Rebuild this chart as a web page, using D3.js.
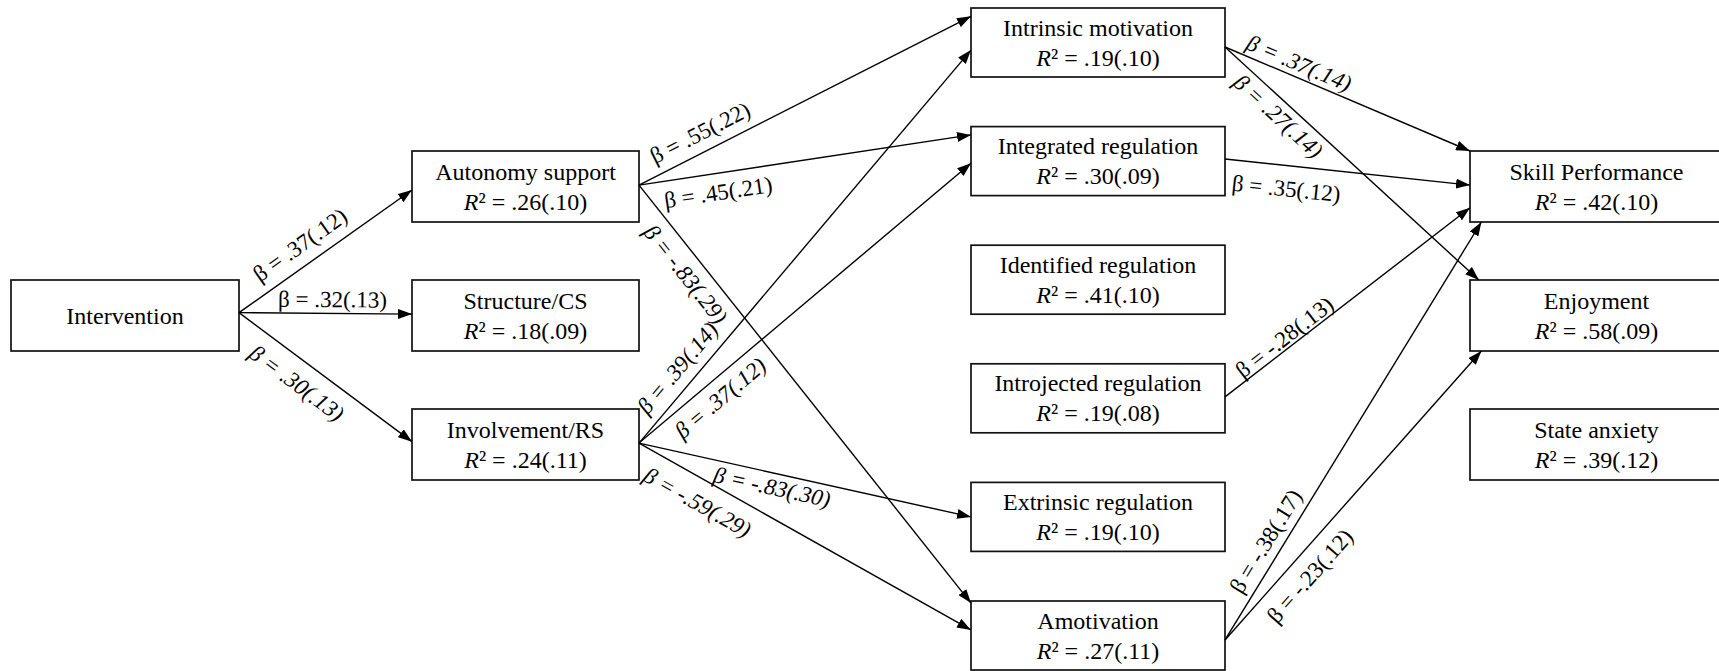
<!DOCTYPE html>
<html>
<head>
<meta charset="utf-8">
<script src="https://cdn.jsdelivr.net/npm/d3@7"></script>
<style>
  body { margin: 0; background: #fff; }
  svg { display: block; }
  svg text { font-family: "Liberation Serif", Tinos, "Times New Roman", serif; }
</style>
</head>
<body>
<svg id="chart" width="1719" height="671"></svg>
<script>
// Boxes of the path model
var nodeNames = ["Intervention", "Autonomy support", "Structure/CS", "Involvement/RS",
  "Intrinsic motivation", "Integrated regulation", "Identified regulation",
  "Introjected regulation", "Extrinsic regulation", "Amotivation",
  "Skill Performance", "Enjoyment", "State anxiety"];
var nodeR2   = [null, .26, .18, .24, .19, .30, .41, .19, .19, .27, .42, .58, .39];
var nodeR2SE = [null, .10, .09, .11, .10, .09, .10, .08, .10, .11, .10, .09, .12];
var nodeCol  = [0, 1, 1, 1, 2, 2, 2, 2, 2, 2, 3, 3, 3];
var nodeRow  = [1, 0, 1, 2, 0, 1, 2, 3, 4, 5, 0, 1, 2];

// Paths (indices into the nodes) with beta(SE)
var edgeFrom = [0, 0, 0, 1, 1, 1, 3, 3, 3, 3, 4, 4, 5, 7, 9, 9];
var edgeTo   = [1, 2, 3, 4, 5, 9, 4, 5, 8, 9, 10, 11, 10, 10, 10, 11];
var edgeBeta = [.37, .32, .30, .55, .45, -.83, .39, .37, -.83, -.59, .37, .27, .35, -.28, -.38, -.23];
var edgeSE   = [.12, .13, .13, .22, .21, .29, .14, .12, .30, .29, .14, .14, .12, .13, .17, .12];

// layout tweaks: where arrows leave / hit boxes, where labels sit
var outY  = [0.46, 0.48, 0.5, 0.48, 0.565, 0.47, 0.5, 0.48, 0.5, 0.565, 0.5, 0.5, 0.5];
var inX   = [0, 0, 0, 0, 0, 0, 0, 0, 0, 0, 0, 0.035, 0, 0, 0.045, 0.045];
var inY   = [0.55, 0.48, 0.46, 0.12, 0.12, 0.03, 0.61, 0.53, 0.50, 0.42, 0, 0, 0.48, 0.80, 1, 1];
var labT  = [.42, .54, .41, .21, .23, .185, .16, .21, .41, .21, .28, .25, .26, .27, .215, .27];
var labOff = [18, 12, -24, 17, -21, -21, 17, -20, -16, -25, 12, -17, -25, 9, 15, -23];
var italicEdges = [2, 5, 6, 7, 8, 9, 10, 11];

var svg = d3.select("#chart");
var serif = "'Liberation Serif', Tinos, 'Times New Roman', serif";

// last column runs off the right edge of the picture
var colX = d3.scaleOrdinal().domain([0, 1, 2, 3]).range([11, 412, 971, 1470]);
var colW = d3.scaleOrdinal().domain([0, 1, 2, 3]).range([228, 227, 254, 253]);
var sideY = d3.scaleLinear().domain([0, 2]).range([151, 409]);
var midY = d3.scaleLinear().domain([0, 5]).range([8, 601]);

var fmt2 = d3.formatLocale({decimal: ".", thousands: ",", grouping: [3], currency: ["", ""], minus: "-"}).format(".2f");
function coef(v) { return fmt2(v).replace(/^(-?)0\./, "$1."); }

var nodes = nodeNames.map(function(name, i) {
  var c = nodeCol[i];
  var mid = c == 2;
  return {
    name: name,
    r2: nodeR2[i],
    se: nodeR2SE[i],
    x: colX(c),
    y: mid ? midY(nodeRow[i]) : sideY(nodeRow[i]),
    w: colW(c),
    h: mid ? 69 : 71
  };
});

svg.append("defs").append("marker")
  .attr("id", "arrow")
  .attr("markerUnits", "userSpaceOnUse")
  .attr("viewBox", "0 0 14 10")
  .attr("refX", 14).attr("refY", 5)
  .attr("markerWidth", 14).attr("markerHeight", 10)
  .attr("orient", "auto")
  .append("path")
  .attr("d", "M0,0L14,5L0,10Z")
  .attr("fill", "#000");

// Boxes
var box = svg.selectAll("g.node").data(nodes).enter().append("g").attr("class", "node");
box.append("rect")
  .attr("x", d => d.x).attr("y", d => d.y)
  .attr("width", d => d.w).attr("height", d => d.h)
  .attr("fill", "#fff").attr("stroke", "#111").attr("stroke-width", 1.7);

box.append("text")
  .attr("x", d => d.x + d.w / 2)
  .attr("y", d => d.r2 == null ? d.y + d.h / 2 + 8.5 : d.y + d.h / 2 - 7)
  .attr("text-anchor", "middle")
  .attr("font-family", serif)
  .attr("font-size", 24)
  .text(d => d.name);

var r2 = box.filter(d => d.r2 != null).append("text")
  .attr("x", d => d.x + d.w / 2)
  .attr("y", d => d.y + d.h / 2 + 23)
  .attr("text-anchor", "middle")
  .attr("font-family", serif)
  .attr("font-size", 24);
r2.append("tspan").attr("font-style", "italic").text("R");
r2.append("tspan").text(d => "\u00b2 = " + coef(d.r2) + "(" + coef(d.se) + ")");

// Paths
var edges = edgeFrom.map(function(f, i) {
  var a = nodes[f], b = nodes[edgeTo[i]];
  var x1 = a.x + a.w, y1 = a.y + a.h * outY[f];
  var x2 = b.x + b.w * inX[i], y2 = b.y + b.h * inY[i];
  var len = Math.hypot(x2 - x1, y2 - y1);
  var ux = (x2 - x1) / len, uy = (y2 - y1) / len;
  return {
    x1: x1, y1: y1, x2: x2, y2: y2,
    lx: x1 + ux * len * labT[i] + uy * labOff[i],
    ly: y1 + uy * len * labT[i] - ux * labOff[i],
    angle: Math.atan2(uy, ux) * 180 / Math.PI,
    text: "\u03b2 = " + coef(edgeBeta[i]) + "(" + coef(edgeSE[i]) + ")",
    italic: italicEdges.indexOf(i) >= 0
  };
});

svg.selectAll("line.path").data(edges).enter().append("line")
  .attr("class", "path")
  .attr("x1", d => d.x1).attr("y1", d => d.y1)
  .attr("x2", d => d.x2).attr("y2", d => d.y2)
  .attr("stroke", "#000").attr("stroke-width", 1.4)
  .attr("marker-end", "url(#arrow)");

svg.selectAll("text.beta").data(edges).enter().append("text")
  .attr("class", "beta")
  .attr("transform", d => "translate(" + d.lx + "," + d.ly + ") rotate(" + d.angle + ")")
  .attr("text-anchor", "middle")
  .attr("dy", "0.25em")
  .attr("font-family", serif)
  .attr("font-size", 23)
  .attr("font-style", d => d.italic ? "italic" : "normal")
  .text(d => d.text);
</script>
</body>
</html>
